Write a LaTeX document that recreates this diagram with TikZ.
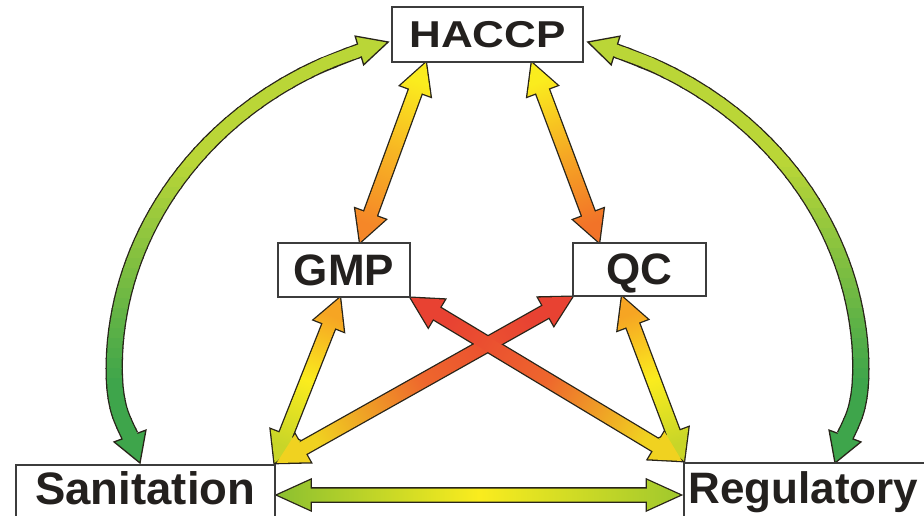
\documentclass[tikz,border=0pt]{standalone}
\usepackage{fontspec}
\usepackage{graphicx}
\setmainfont{Liberation Sans}
\usetikzlibrary{calc}
\pgfdeclarelayer{bg}
\pgfsetlayers{bg,main}

\definecolor{ol}{RGB}{40,36,25}
\definecolor{boxline}{RGB}{60,60,60}
\definecolor{txt}{RGB}{35,32,30}
\definecolor{cyel}{RGB}{250,236,30}
\definecolor{cora}{RGB}{245,135,40}
\definecolor{cora2}{RGB}{242,115,40}
\definecolor{cyo}{RGB}{246,165,35}
\definecolor{cyg2}{RGB}{200,213,40}
\definecolor{cred}{RGB}{232,66,50}
\definecolor{cxmid}{RGB}{238,102,45}
\definecolor{cxend}{RGB}{240,210,32}
\definecolor{cyg}{RGB}{186,214,55}
\definecolor{cgrn}{RGB}{62,165,75}
\definecolor{cbl}{RGB}{140,192,48}
\definecolor{cbr}{RGB}{160,200,45}

\tikzset{
  lbox/.style={draw=boxline, line width=1.6pt, fill=white, inner sep=0pt, text=txt,
    font=\fontsize{44}{50}\selectfont\bfseries},
  bigtext/.style={font=\fontsize{45.5}{50}\selectfont\bfseries},
  arrowout/.style={draw=ol, line width=2.6pt, line join=miter},
  headstyle/.style={draw=ol, line width=1.3pt, line join=miter},
}

\newcommand\ahl{30pt}
\newcommand\ahw{16pt}
\newcommand\asw{6.7pt}

% straight double-headed block arrow between two named coordinates
\newcommand\dblarrowpath[3]{%
  \pgfmathanglebetweenpoints{\pgfpointanchor{#1}{center}}{\pgfpointanchor{#2}{center}}%
  \pgfmathsetmacro\arang{\pgfmathresult-90}%
  \coordinate (tmpa) at ($(#1)!\ahl!(#2)$);
  \coordinate (tmpb) at ($(#2)!\ahl!(#1)$);
  \path[#3] (#1) -- ($(tmpa)!\ahw!90:(#2)$) -- ($(tmpa)!\asw!90:(#2)$)
    -- ($(tmpb)!\asw!-90:(#1)$) -- ($(tmpb)!\ahw!-90:(#1)$) -- (#2)
    -- ($(tmpb)!\ahw!90:(#1)$) -- ($(tmpb)!\asw!90:(#1)$)
    -- ($(tmpa)!\asw!-90:(#2)$) -- ($(tmpa)!\ahw!-90:(#2)$) -- cycle;
}
% arrow head: base centre, tip, half width, fill colour
\newcommand\archead[4]{%
  \path[headstyle, fill=#4] (#2) -- ($(#1)!#3!90:(#2)$) -- ($(#1)!#3!-90:(#2)$) -- cycle;
}
\newcommand\leftarcpath{plot[smooth, tension=0.6] coordinates {(359.4,50.5) (311.9,69.8) (267.8,94.9) (227.9,125.4) (193.1,160.7) (164,200) (141.2,242.6) (125.1,287.8) (116.1,334.5) (114.4,378) (119,410) (130,436)}}
\newcommand\rightarcpath{plot[smooth, tension=0.6] coordinates {(615.6,50.5) (663.1,69.8) (707.2,94.9) (747.1,125.4) (781.9,160.7) (811,200) (833.8,242.6) (849.9,287.8) (858.9,334.5) (860.6,378) (856,410) (845,436)}}

\begin{document}
\begin{tikzpicture}[x=1pt,y=-1pt]
\useasboundingbox (0,0) rectangle (924,516);
\begin{scope}
\clip (0,0) rectangle (924,516);
\node[lbox, minimum width=191pt, minimum height=55pt] (haccp) at (487.5,34.5) {\scalebox{1}[0.85]{HACCP}};
\node[lbox, minimum width=132pt, minimum height=54pt] (gmp) at (344,270) {GMP};
\node[lbox, minimum width=133pt, minimum height=53pt, text depth=0pt] (qc) at (639.5,269.5) {QC};
\node[lbox, bigtext, anchor=north west, minimum width=259pt, text height=40pt, text depth=30pt] (san) at (15,464) {Sanitation};
\node[lbox, anchor=north west, text width=260pt, align=left, inner xsep=4.5pt, text height=41pt, text depth=30pt] (reg) at (683,462) {Regulatory};
\end{scope}

% connector end points
\coordinate (hg1) at ($(haccp.south west)!0.18!(haccp.south east)$);
\coordinate (hg2) at ($(gmp.north west)!0.62!(gmp.north east)$);
\coordinate (hq1) at ($(haccp.south west)!0.73!(haccp.south east)$);
\coordinate (hq2) at ($(qc.north west)!0.2!(qc.north east)$);
\coordinate (gs1) at ($(gmp.south west)!0.47!(gmp.south east)$);
\coordinate (gs2) at ($(san.north east)+(-1,-1)$);
\coordinate (qs1) at (qc.south west);
\coordinate (qs2) at ($(san.north east)+(1,-1)$);
\coordinate (gr1) at (gmp.south east);
\coordinate (gr2) at ($(reg.north west)+(-1,-1)$);
\coordinate (qr1) at ($(qc.south west)!0.37!(qc.south east)$);
\coordinate (qr2) at ($(reg.north west)+(1,-1)$);
\coordinate (sr1) at ($(san.north east)+(2,31)$);
\coordinate (sr2) at ($(reg.north west)+(-3,33)$);
\coordinate (lt) at ($(haccp.west)+(-3,7.5)$);
\coordinate (lb) at ($(san.north west)+(125,-1)$);
\coordinate (rt) at ($(haccp.east)+(4,7.5)$);
\coordinate (rb) at ($(reg.north west)+(152,1)$);

\begin{pgfonlayer}{bg}
\fill[white] (0,0) rectangle (924,516);
% curved arrows: outline
\foreach \i in {0,...,44}{%
  \pgfmathsetmacro\ya{28+10*\i}%
  \pgfmathsetmacro\yb{\ya+10.8}%
  \pgfmathsetmacro\yc{\ya+5}%
  \pgfmathsetmacro\lwdo{12+3.5*(\yc-40)/410+2.6}%
  \begin{scope}
    \clip (0,\ya) rectangle (924,\yb);
    \draw[ol, line width=\lwdo pt] \leftarcpath;
    \draw[ol, line width=\lwdo pt] \rightarcpath;
  \end{scope}
}
\archead{359.4,50.5}{lt}{15pt}{cyg}
\archead{130,436}{lb}{17pt}{cgrn}
\archead{615.6,50.5}{rt}{15pt}{cyg}
\archead{845,436}{rb}{17pt}{cgrn}
% curved arrows: gradient body
\foreach \i in {0,...,44}{%
  \pgfmathsetmacro\ya{28+10*\i}%
  \pgfmathsetmacro\yb{\ya+10.8}%
  \pgfmathsetmacro\yc{\ya+5}%
  \pgfmathsetmacro\lwd{12+3.5*(\yc-40)/410}%
  \pgfmathtruncatemacro\pct{100*max(0,min(1,(\yc-160)/220))}%
  \begin{scope}
    \clip (0,\ya) rectangle (924,\yb);
    \draw[color=cgrn!\pct!cyg, line width=\lwd pt, shorten <=-2.5pt, shorten >=-2.5pt] \leftarcpath;
    \draw[color=cgrn!\pct!cyg, line width=\lwd pt, shorten <=-2.5pt, shorten >=-2.5pt] \rightarcpath;
  \end{scope}
}
% straight arrows: outlines
\dblarrowpath{hg1}{hg2}{arrowout}
\dblarrowpath{hq1}{hq2}{arrowout}
\dblarrowpath{gs2}{gs1}{arrowout}
\dblarrowpath{qr2}{qr1}{arrowout}
\dblarrowpath{qs2}{qs1}{arrowout}
\dblarrowpath{gr2}{gr1}{arrowout}
% straight arrows: fills
\dblarrowpath{hg1}{hg2}{bottom color=cyel, top color=cora, middle color=cyel!45!cora, shading angle=\arang}
\dblarrowpath{hq1}{hq2}{bottom color=cyel, top color=cora2, middle color=cyel!45!cora2, shading angle=\arang}
\dblarrowpath{gs2}{gs1}{bottom color=cyg2, top color=cyo, middle color=cyel, shading angle=\arang}
\dblarrowpath{qr2}{qr1}{bottom color=cyg2, top color=cyo, middle color=cyel, shading angle=\arang}
\dblarrowpath{qs2}{qs1}{bottom color=cxend, top color=cred, middle color=cxmid, shading angle=\arang}
\dblarrowpath{gr2}{gr1}{bottom color=cxend, top color=cred, middle color=cxmid, shading angle=\arang}
% bottom arrow
\renewcommand\ahl{33pt}\renewcommand\ahw{15pt}\renewcommand\asw{6.5pt}
\dblarrowpath{sr1}{sr2}{arrowout}
\dblarrowpath{sr1}{sr2}{bottom color=cbl, top color=cbr, middle color=cyel, shading angle=\arang}
\end{pgfonlayer}
\end{tikzpicture}
\end{document}
